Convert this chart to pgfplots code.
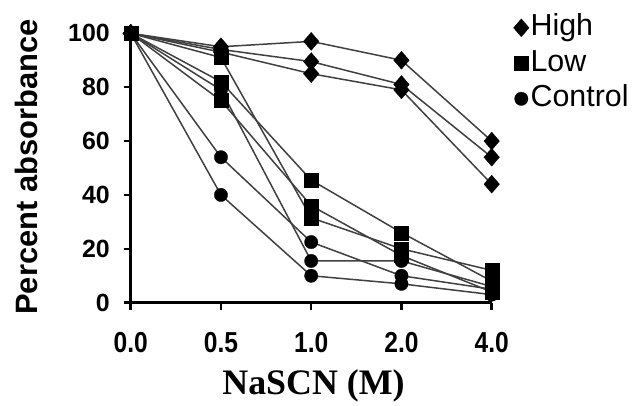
\documentclass[border=0pt]{standalone}
\usepackage{fontspec}
\setmainfont{Liberation Sans}
\newfontfamily\serifbold{Liberation Serif}
\newfontfamily\narrowsans[FakeStretch=0.85]{Liberation Sans}
\usepackage{pgfplots}
\pgfplotsset{compat=1.18}

\pgfplotsset{
  series/.style={line width=1.5bp, draw=black!75},
  high/.style={series, mark=diamond*, mark size=9bp,
    mark options={solid, fill=black, draw=black, line width=0.3bp, xscale=1.15}},
  low/.style={series, mark=square*, mark size=7bp,
    mark options={solid, fill=black, draw=black, line width=0.3bp}},
  control/.style={series, mark=*, mark size=6.7bp,
    mark options={solid, fill=black, draw=black, line width=0.3bp}},
}

\begin{document}
\begin{tikzpicture}
\begin{axis}[
  at={(0,0)}, anchor=south west,
  scale only axis, width=361bp, height=269.4bp,
  xmin=0, xmax=4, ymin=0, ymax=100,
  clip=false,
  axis lines=left,
  axis line style={-, line width=3bp, black},
  tick align=outside,
  major tick length=7bp,
  tick style={line width=2.5bp, black},
  xtick={0,1,2,3,4},
  xticklabels={0.0,0.5,1.0,2.0,4.0},
  ytick={0,20,40,60,80,100},
  /pgf/number format/assume math mode=true,
  xticklabel style={anchor=center, inner sep=0pt, yshift=-32.8bp,
    font=\narrowsans\bfseries\fontsize{29}{29}\selectfont},
  yticklabel style={anchor=east, inner sep=0pt, xshift=-13.7bp,
    font=\bfseries\fontsize{25}{25}\selectfont},
  xlabel={NaSCN (M)},
  xlabel style={at={(axis description cs:0.5064,-0.3073)}, anchor=center,
    inner sep=0pt, font=\serifbold\bfseries\fontsize{36}{43}\selectfont},
  ylabel={Percent absorbance},
  ylabel style={at={(axis description cs:-0.290,0.5037)}, anchor=center,
    rotate=0, inner sep=0pt, font=\bfseries\fontsize{31}{37}\selectfont},
  legend style={draw=none, fill=none, at={(axis description cs:1.060,1.073)},
    anchor=north west, inner sep=0pt, row sep=7.5bp, column sep=0pt,
    nodes={inner sep=0pt, text height=22bp, text depth=6bp,
      font=\fontsize{30.5}{30.5}\selectfont},
    /tikz/every odd column/.append style={column sep=1.5bp}},
  legend cell align=left,
  legend image code/.code={\draw[#1] plot coordinates {(0bp,0bp)};},
]
% High salt-resistance group
\addplot[high, forget plot] coordinates {(0,100) (1,95) (2,97) (3,90) (4,60)};
\addplot[high, forget plot] coordinates {(0,100) (1,94) (2,89.5) (3,81) (4,54)};
\addplot[high, forget plot] coordinates {(0,100) (1,93) (2,85) (3,79) (4,44)};
% Control group
\addplot[control, forget plot] coordinates {(0,100) (1,40) (2,10) (3,7) (4,3)};
\addplot[control, forget plot] coordinates {(0,100) (1,54) (2,22.5) (3,10) (4,5)};
\addplot[control, forget plot] coordinates {(0,100) (1,79) (2,15.5) (3,15.5) (4,6)};
% Low salt-resistance group
\addplot[low, forget plot] coordinates {(0,100) (1,91) (2,31.5) (3,20) (4,12)};
\addplot[low, forget plot] coordinates {(0,100) (1,82) (2,45.5) (3,26) (4,8)};
\addplot[low, forget plot] coordinates {(0,100) (1,75) (2,36) (3,17.5) (4,4)};
% legend
\addlegendimage{high, only marks}
\addlegendentry{High}
\addlegendimage{low, only marks}
\addlegendentry{Low}
\addlegendimage{control, only marks}
\addlegendentry{Control}
\end{axis}
\pgfresetboundingbox
\path[use as bounding box] (-130.7bp,-103.3bp) rectangle (501.3bp,302.7bp);
\end{tikzpicture}
\end{document}
